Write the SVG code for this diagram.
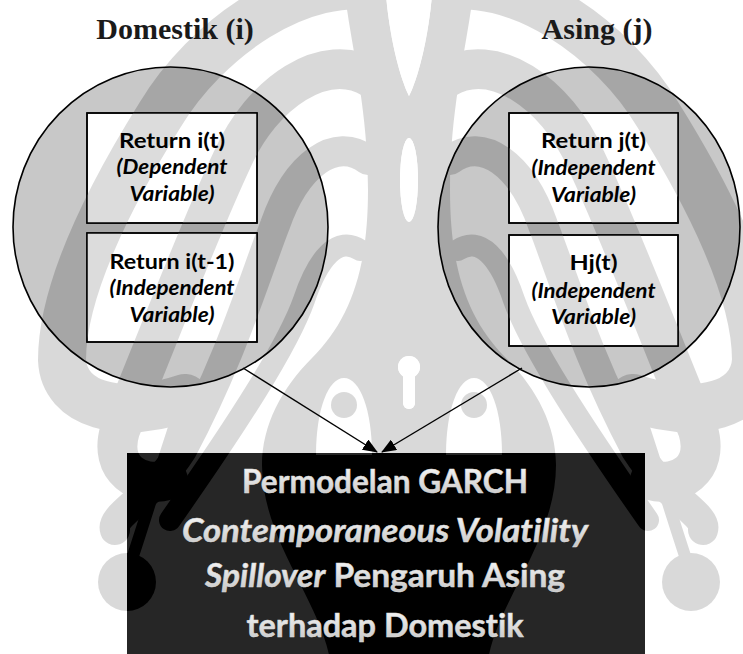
<svg xmlns="http://www.w3.org/2000/svg" width="743" height="654" viewBox="0 0 743 654">
  <defs>
    <style>
      text{font-variant-ligatures:none;font-feature-settings:"liga" 0,"clig" 0}
      .ttl{font-family:"Liberation Serif","Times New Roman",serif;font-weight:bold;font-size:30px;fill:#1a1a1a;text-anchor:middle}
      .bx{font-family:Lato,"Open Sans",sans-serif;font-weight:bold;font-size:21.5px;fill:#000;text-anchor:middle}
      .it{font-style:italic}
      .big{font-family:Lato,"Open Sans",sans-serif;font-weight:bold;font-size:33px;text-anchor:middle;fill:url(#txtg);stroke:#dcdcdc;stroke-width:0.5}
      .ring{stroke:#000;stroke-width:1.6}
      .card{fill:#fff;stroke:#000;stroke-width:1.5}
      .conn{stroke:#000;stroke-width:1.4;fill:none}
      .w{fill:#fff}
      .k{fill:#000}
      .ws{fill:none;stroke:#fff;stroke-linecap:round}
    </style>
    <linearGradient id="txtg" x1="0" y1="0" x2="0" y2="1">
      <stop offset="0" stop-color="#ffffff"/>
      <stop offset="1" stop-color="#c4c4c4"/>
    </linearGradient>
    <marker id="ah" markerWidth="15" markerHeight="12" refX="14" refY="6" orient="auto" markerUnits="userSpaceOnUse">
      <path d="M0 0 L15 6 L0 12 Z" fill="#000"/>
    </marker>

    <!-- background emblem, left half (mirrored about x=409) -->
    <g id="emPos">
      <!-- central trunk -->
      <path class="w" d="M409 -5 L345 -5 C352 50 368 110 368 190 C368 270 350 320 312 358 C282 388 262 425 262 465 C262 540 320 600 330 660 L409 660 Z"/>
      <!-- arching ribbons -->
      <path class="ws" stroke-width="48" d="M385 -12 C300 -30 205 40 160 115 C110 195 62 290 62 360 C64 405 120 420 185 398"/>
      <path class="ws" stroke-width="40" d="M372 78 C325 50 262 92 232 160 C200 228 165 320 120 430 C108 470 140 488 168 480"/>
      <path class="ws" stroke-width="30" d="M368 160 C335 135 296 165 275 225 C252 285 230 360 182 450 C150 500 110 515 115 530"/>
      <path class="ws" stroke-width="22" d="M360 250 C338 235 318 258 304 300 C288 345 240 420 170 520"/>
      <circle class="w" cx="127" cy="582" r="29"/>
      <path class="ws" stroke-width="12" d="M130 565 C145 520 160 470 175 425"/>
    </g>
    <g id="emNeg">
      <!-- flame, drop and stem openings on the axis -->
      <path class="k" d="M386 -5 C390 40 400 78 409 96 C418 78 428 40 432 -5 Z"/>
      <ellipse class="k" cx="409" cy="180" rx="9" ry="42"/>
      <circle class="k" cx="409" cy="367" r="11"/>
      <rect class="k" x="403" y="367" width="12" height="42" rx="6"/>
      <!-- arched eye openings -->
      <path class="k" d="M316 455 C316 410 328 378 344 378 C360 378 372 410 372 455 Z"/>
    </g>
    <g id="emPos2">
      <circle class="w" cx="344" cy="405" r="13"/>
    </g>
    <mask id="em" maskUnits="userSpaceOnUse" x="0" y="0" width="743" height="654">
      <rect width="743" height="654" fill="#000"/>
      <use href="#emPos"/>
      <use href="#emPos" transform="translate(818 0) scale(-1 1)"/>
      <use href="#emNeg"/>
      <use href="#emNeg" transform="translate(818 0) scale(-1 1)"/>
      <use href="#emPos2"/>
      <use href="#emPos2" transform="translate(818 0) scale(-1 1)"/>
    </mask>
  </defs>

  <!-- page -->
  <rect width="743" height="654" fill="#fff"/>
  <rect width="743" height="654" fill="#d9d9d9" mask="url(#em)"/>

  <!-- titles -->
  <text class="ttl" x="175" y="39">Domestik (i)</text>
  <text class="ttl" x="597" y="39">Asing (j)</text>

  <!-- domestic group -->
  <g id="domestik">
    <ellipse cx="170.5" cy="227" rx="157.5" ry="160" fill="#c8c8c8"/>
    <ellipse cx="170.5" cy="227" rx="157.5" ry="160" fill="#a6a6a6" mask="url(#em)"/>
    <ellipse class="ring" cx="170.5" cy="227" rx="157.5" ry="160" fill="none"/>
  </g>
  <g id="return-i-t">
    <rect class="card" x="87" y="113" width="170" height="110"/>
    <rect x="87" y="113" width="170" height="110" fill="#dcdcdc" mask="url(#em)"/>
    <rect x="87" y="113" width="170" height="110" fill="none" stroke="#000" stroke-width="1.5"/>
    <text class="bx" x="172" y="148" textLength="106" lengthAdjust="spacingAndGlyphs">Return i(t)</text>
    <text class="bx it" x="172" y="174" textLength="111" lengthAdjust="spacingAndGlyphs">(Dependent</text>
    <text class="bx it" x="172" y="201" textLength="85" lengthAdjust="spacingAndGlyphs">Variable)</text>
  </g>
  <g id="return-i-t1">
    <rect class="card" x="87" y="233" width="170" height="109"/>
    <rect x="87" y="233" width="170" height="109" fill="#dcdcdc" mask="url(#em)"/>
    <rect x="87" y="233" width="170" height="109" fill="none" stroke="#000" stroke-width="1.5"/>
    <text class="bx" x="172" y="269" textLength="125" lengthAdjust="spacingAndGlyphs">Return i(t-1)</text>
    <text class="bx it" x="172" y="295" textLength="125" lengthAdjust="spacingAndGlyphs">(Independent</text>
    <text class="bx it" x="172" y="322" textLength="85" lengthAdjust="spacingAndGlyphs">Variable)</text>
  </g>

  <!-- foreign group -->
  <g id="asing">
    <ellipse cx="589" cy="227" rx="151" ry="160" fill="#c8c8c8"/>
    <ellipse cx="589" cy="227" rx="151" ry="160" fill="#a6a6a6" mask="url(#em)"/>
    <ellipse class="ring" cx="589" cy="227" rx="151" ry="160" fill="none"/>
  </g>
  <g id="return-j-t">
    <rect class="card" x="509" y="113" width="169" height="110"/>
    <rect x="509" y="113" width="169" height="110" fill="#dcdcdc" mask="url(#em)"/>
    <rect x="509" y="113" width="169" height="110" fill="none" stroke="#000" stroke-width="1.5"/>
    <text class="bx" x="593.5" y="148" textLength="105" lengthAdjust="spacingAndGlyphs">Return j(t)</text>
    <text class="bx it" x="593.5" y="175" textLength="124" lengthAdjust="spacingAndGlyphs">(Independent</text>
    <text class="bx it" x="593.5" y="202" textLength="85" lengthAdjust="spacingAndGlyphs">Variable)</text>
  </g>
  <g id="hj-t">
    <rect class="card" x="509" y="235" width="169" height="111"/>
    <rect x="509" y="235" width="169" height="111" fill="#dcdcdc" mask="url(#em)"/>
    <rect x="509" y="235" width="169" height="111" fill="none" stroke="#000" stroke-width="1.5"/>
    <text class="bx" x="593.5" y="270" textLength="48" lengthAdjust="spacingAndGlyphs">Hj(t)</text>
    <text class="bx it" x="593.5" y="298" textLength="124" lengthAdjust="spacingAndGlyphs">(Independent</text>
    <text class="bx it" x="593.5" y="324" textLength="85" lengthAdjust="spacingAndGlyphs">Variable)</text>
  </g>

  <!-- connectors -->
  <g id="connectors">
    <line class="conn" x1="243" y1="368" x2="377" y2="452" marker-end="url(#ah)"/>
    <line class="conn" x1="522" y1="368" x2="382" y2="452" marker-end="url(#ah)"/>
  </g>

  <!-- result -->
  <g id="garch">
    <rect x="127" y="453" width="518" height="201" fill="#262626"/>
    <rect x="127" y="453" width="518" height="201" fill="#000" mask="url(#em)"/>
    <text class="big" x="385" y="493" textLength="286" lengthAdjust="spacingAndGlyphs">Permodelan GARCH</text>
    <text class="big it" x="385" y="542" textLength="406" lengthAdjust="spacingAndGlyphs">Contemporaneous Volatility</text>
    <text class="big" x="385" y="587" textLength="360" lengthAdjust="spacingAndGlyphs"><tspan class="it">Spillover</tspan> Pengaruh Asing</text>
    <text class="big" x="385" y="637" textLength="277" lengthAdjust="spacingAndGlyphs">terhadap Domestik</text>
  </g>
</svg>
